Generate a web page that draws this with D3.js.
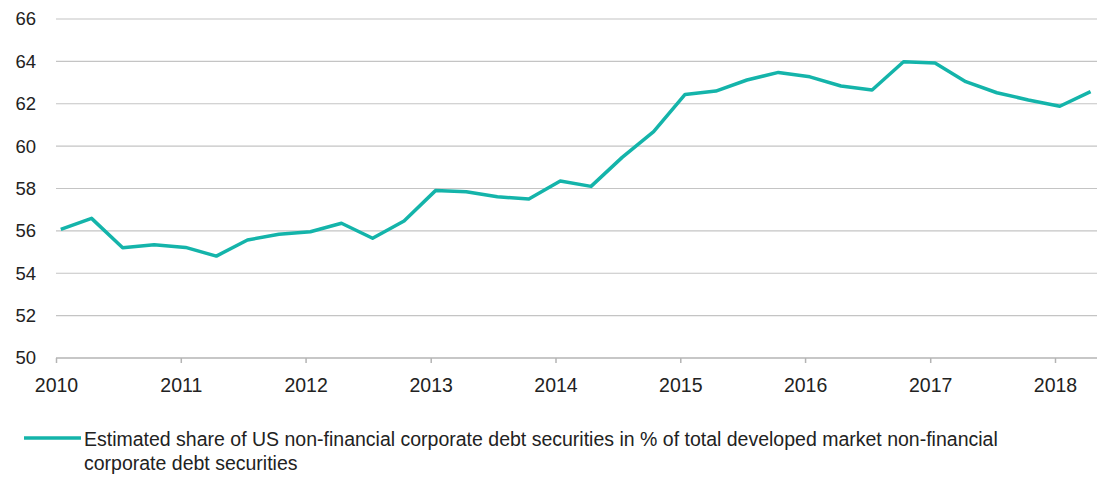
<!DOCTYPE html>
<html>
<head>
<meta charset="utf-8">
<script src="https://cdn.jsdelivr.net/npm/d3@7"></script>
<style>
  html, body { margin: 0; padding: 0; background: #fff; }
  svg { display: block; }
  text { font-family: "Liberation Sans", Arial, sans-serif; fill: #222; }
</style>
</head>
<body>
<svg id="chart" width="1105" height="477"></svg>
<script>
// ---- data ----
const quarters = [
  "2010Q1","2010Q2","2010Q3","2010Q4",
  "2011Q1","2011Q2","2011Q3","2011Q4",
  "2012Q1","2012Q2","2012Q3","2012Q4",
  "2013Q1","2013Q2","2013Q3","2013Q4",
  "2014Q1","2014Q2","2014Q3","2014Q4",
  "2015Q1","2015Q2","2015Q3","2015Q4",
  "2016Q1","2016Q2","2016Q3","2016Q4",
  "2017Q1","2017Q2","2017Q3","2017Q4",
  "2018Q1","2018Q2"
];
const shareValues = [
  56.07, 56.59, 55.20, 55.35,
  55.22, 54.81, 55.57, 55.84,
  55.96, 56.36, 55.65, 56.47,
  57.90, 57.85, 57.61, 57.50,
  58.35, 58.10, 59.47, 60.68,
  62.44, 62.60, 63.12, 63.48,
  63.27, 62.84, 62.65, 63.98,
  63.92, 63.04, 62.52, 62.18,
  61.88, 62.57
];
const yTicks = [50, 52, 54, 56, 58, 60, 62, 64, 66];
const xTickYears = [2010, 2011, 2012, 2013, 2014, 2015, 2016, 2017, 2018];
const legendLines = [
  "Estimated share of US non-financial corporate debt securities in % of total developed market non-financial",
  "corporate debt securities"
];

// ---- build ----
const parseQ = q => {
  const y = +q.slice(0, 4), k = +q.slice(5);
  return new Date(y, (k - 1) * 3, 15);
};
const data = quarters.map((q, i) => ({ date: parseQ(q), value: shareValues[i] }));

const svg = d3.select("#chart");
const x = d3.scaleTime()
  .domain([new Date(2010, 0, 1), new Date(2018, 0, 1)])
  .range([56, 1055]);
const plotRight = 1097;
const y = d3.scaleLinear().domain([50, 66]).range([358, 19]);

// gridlines
svg.append("g")
  .selectAll("line")
  .data(yTicks.filter(t => t !== 50))
  .join("line")
  .attr("x1", 56).attr("x2", plotRight)
  .attr("y1", d => y(d)).attr("y2", d => y(d))
  .attr("stroke", "#c4c4c4").attr("stroke-width", 1.2);

// y labels
svg.append("g")
  .selectAll("text")
  .data(yTicks)
  .join("text")
  .attr("x", 36)
  .attr("y", d => y(d))
  .attr("dy", "0.35em")
  .attr("text-anchor", "end")
  .attr("font-size", 18.5)
  .text(d => d);

// x axis
const xAxis = d3.axisBottom(x)
  .tickValues(xTickYears.map(yr => new Date(yr, 0, 1)))
  .tickFormat(d3.timeFormat("%Y"))
  .tickSize(5)
  .tickSizeOuter(0);
const gx = svg.append("g").attr("transform", `translate(0,${y(50)})`).call(xAxis);
gx.select(".domain").remove();
gx.append("line")
  .attr("x1", 56).attr("x2", plotRight)
  .attr("y1", 0).attr("y2", 0)
  .attr("stroke", "#b4b4b4").attr("stroke-width", 1.5);
gx.selectAll(".tick line").attr("stroke", "#b4b4b4").attr("stroke-width", 1.5);
gx.selectAll(".tick text")
  .attr("font-size", 19.5)
  .attr("font-family", "Liberation Sans, Arial, sans-serif")
  .attr("fill", "#222")
  .attr("y", 34)
  .attr("dy", "0");

// line
const line = d3.line().x(d => x(d.date)).y(d => y(d.value));
svg.append("path")
  .datum(data)
  .attr("fill", "none")
  .attr("stroke", "#14b4aa")
  .attr("stroke-width", 3.5)
  .attr("stroke-linejoin", "round")
  .attr("d", line);

// legend
const lg = svg.append("g");
lg.append("line")
  .attr("x1", 24).attr("x2", 81)
  .attr("y1", 438).attr("y2", 438)
  .attr("stroke", "#14b4aa").attr("stroke-width", 3.5);
lg.selectAll("text")
  .data(legendLines)
  .join("text")
  .attr("x", 84)
  .attr("y", (d, i) => 446 + i * 24)
  .attr("font-size", 19.5)
  .attr("fill", "#2a2a2a")
  .text(d => d);
</script>
</body>
</html>
